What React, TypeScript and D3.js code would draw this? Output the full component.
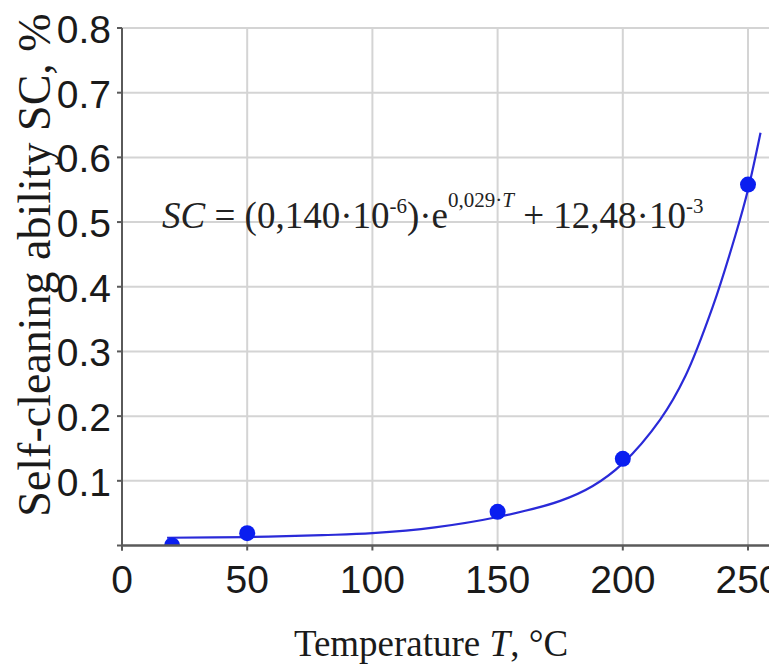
import React from "react";
import * as d3 from "d3";

const xTicks = [0, 50, 100, 150, 200, 250];
const yTicks = [0.1, 0.2, 0.3, 0.4, 0.5, 0.6, 0.7, 0.8];
const yTickLabels = ["0.1", "0.2", "0.3", "0.4", "0.5", "0.6", "0.7", "0.8"];

// measured points
const pointT = [20, 50, 150, 200, 250];
const pointSC = [0.0, 0.019, 0.052, 0.134, 0.558];

// fitted curve
const curveT = [18, 50, 80, 100, 125, 150, 175, 188, 200, 215, 225, 236, 245, 250, 255];
const curveSC = [0.012, 0.013, 0.016, 0.019, 0.028, 0.044, 0.069, 0.092, 0.127, 0.195, 0.262, 0.37, 0.48, 0.55, 0.638];

const W = 769;
const H = 670;

export default function App() {
  const x = d3.scaleLinear().domain([0, 250]).range([122, 748]);
  const y = d3.scaleLinear().domain([0, 0.8]).range([545.5, 28]);

  const line = d3
    .line<number>()
    .x((_, i) => x(curveT[i]))
    .y((d) => y(d))
    .curve(d3.curveCatmullRom.alpha(0.5));

  const axisColor = "#5a5a5a";
  const gridColor = "#d4d4d4";
  const blue = "#0a1ef0";
  const serif = "'Liberation Serif', 'Times New Roman', serif";
  const sans = "'Liberation Sans', Arial, sans-serif";

  return (
    <svg
      width={W}
      height={H}
      style={{ position: "absolute", left: 0, top: 0, background: "#fff" }}
    >
      <defs>
        <clipPath id="plot">
          <rect x={x(0)} y={0} width={W - x(0)} height={y(0)} />
        </clipPath>
      </defs>
      <rect x={0} y={0} width={W} height={H} fill="#fff" />

      {/* horizontal grid */}
      {yTicks.map((t) => (
        <line
          key={"h" + t}
          x1={x(0)}
          x2={W}
          y1={y(t)}
          y2={y(t)}
          stroke={gridColor}
          strokeWidth={2}
        />
      ))}
      {/* vertical grid */}
      {xTicks.slice(1).map((t) => (
        <line
          key={"v" + t}
          x1={x(t)}
          x2={x(t)}
          y1={y(0.8)}
          y2={y(0)}
          stroke={gridColor}
          strokeWidth={2}
        />
      ))}

      {/* equation */}
      <text x={162} y={228} fontFamily={serif} fontSize={37} fill="#222">
        <tspan fontStyle="italic">SC</tspan>
        <tspan> = (0,140·10</tspan>
        <tspan fontSize={21} dy={-15}>-6</tspan>
        <tspan dy={15}>)·e</tspan>
        <tspan fontSize={21} dy={-21}>0,029·</tspan>
        <tspan fontSize={21} fontStyle="italic">T</tspan>
        <tspan dy={21}> + 12,48·10</tspan>
        <tspan fontSize={21} dy={-15}>-3</tspan>
      </text>

      {/* curve */}
      <path
        d={line(curveSC) || ""}
        fill="none"
        stroke="#2a2ad8"
        strokeWidth={2.2}
        clipPath="url(#plot)"
      />

      {/* points */}
      <g clipPath="url(#plot)">
        {pointSC.map((v, i) => (
          <circle key={i} cx={x(pointT[i])} cy={y(v)} r={8} fill={blue} />
        ))}
      </g>

      {/* axes */}
      <line x1={x(0)} x2={x(0)} y1={y(0.8)} y2={y(0) + 5} stroke={axisColor} strokeWidth={2} />
      <line x1={x(0) - 1} x2={W} y1={y(0)} y2={y(0)} stroke={axisColor} strokeWidth={2.5} />

      {/* y ticks */}
      {yTicks.map((t, i) => (
        <g key={"yt" + t}>
          <line x1={x(0) - 5} x2={x(0)} y1={y(t)} y2={y(t)} stroke={axisColor} strokeWidth={2} />
          <text
            x={111}
            y={y(t) + 15}
            textAnchor="end"
            fontFamily={sans}
            fontSize={39}
            fill="#1a1a1a"
          >
            {yTickLabels[i]}
          </text>
        </g>
      ))}
      <line x1={x(0) - 5} x2={x(0)} y1={y(0)} y2={y(0)} stroke={axisColor} strokeWidth={2} />

      {/* x ticks */}
      {xTicks.map((t) => (
        <g key={"xt" + t}>
          <line x1={x(t)} x2={x(t)} y1={y(0)} y2={y(0) + 5} stroke={axisColor} strokeWidth={2} />
          <text
            x={x(t)}
            y={593}
            textAnchor="middle"
            fontFamily={sans}
            fontSize={39}
            fill="#1a1a1a"
          >
            {t}
          </text>
        </g>
      ))}

      {/* x axis title */}
      <text
        x={431}
        y={656}
        textAnchor="middle"
        fontFamily={serif}
        fontSize={37}
        fill="#1a1a1a"
      >
        Temperature <tspan fontStyle="italic">T</tspan>, °C
      </text>

      {/* y axis title */}
      <text
        transform="translate(50, 265) rotate(-90)"
        textAnchor="middle"
        fontFamily={serif}
        fontSize={46}
        fill="#1a1a1a"
      >
        Self-cleaning ability SC, %
      </text>
    </svg>
  );
}
